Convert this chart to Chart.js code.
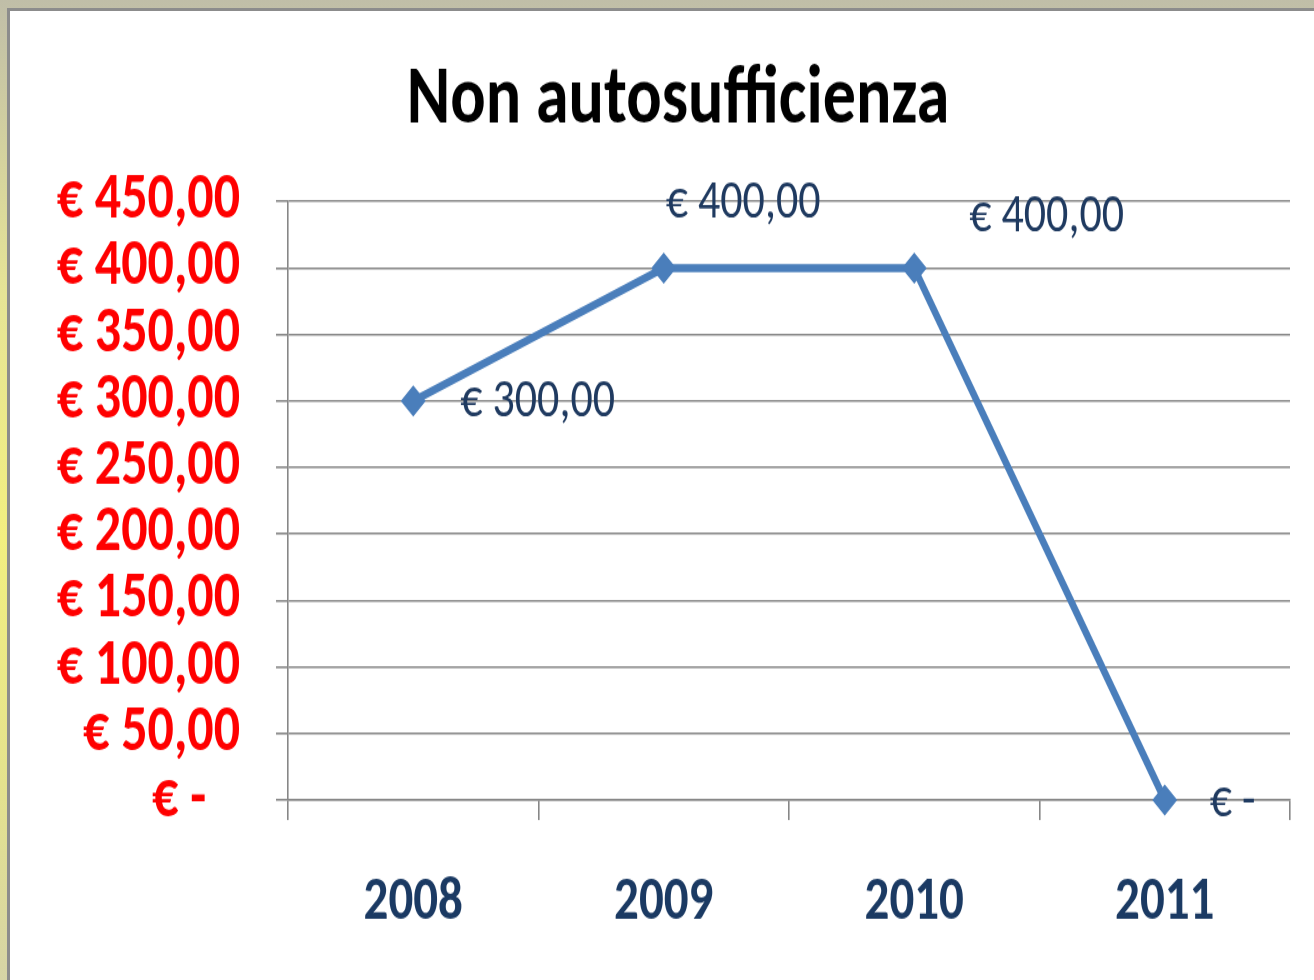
<!DOCTYPE html>
<html lang="it">
<head>
    <meta charset="UTF-8">
    <title>Non autosufficienza</title>
    <script src="https://cdn.jsdelivr.net/npm/chart.js"></script>
    <style>
        html, body { margin: 0; padding: 0; }
        #frame {
            position: relative;
            width: 1314px;
            height: 980px;
            overflow: hidden;
            background: linear-gradient(to bottom, #c0bea8 0%, #e6e496 30%, #f2ef80 55%, #e4e28e 80%, #d6d4a6 100%);
        }
        #sheet {
            position: absolute;
            left: 7px;
            top: 8px;
            right: 0;
            bottom: 0;
            background: #fff;
            border-left: 3px solid #8c8c8c;
            border-top: 3px solid #8c8c8c;
        }
        #stretch {
            position: absolute;
            left: 0;
            top: 0;
            width: 1314px;
            height: 784px;
            transform: scaleY(1.25);
            transform-origin: 0 0;
        }
    </style>
</head>
<body>
    <div id="frame">
        <div id="sheet"></div>
        <div id="stretch">
            <canvas id="chart" width="1314" height="784"></canvas>
        </div>
    </div>

    <script>
        const years = ["2008", "2009", "2010", "2011"];
        const values = [300, 400, 400, 0];
        const yTickLabels = ["€ -", "€ 50,00", "€ 100,00", "€ 150,00", "€ 200,00",
                             "€ 250,00", "€ 300,00", "€ 350,00", "€ 400,00", "€ 450,00"];

        const fontStack = "Carlito, Lato, 'Open Sans', sans-serif";

        function euro(v) {
            if (v === 0) return "€ -";
            return "€ " + v.toFixed(2).replace(".", ",");
        }

        // data labels placed like the hand-moved Excel ones
        const valueLabels = {
            id: "valueLabels",
            afterDatasetsDraw(chart, args, opts) {
                const ctx = chart.ctx;
                const meta = chart.getDatasetMeta(0);
                ctx.save();
                ctx.font = "400 44px " + fontStack;
                ctx.fillStyle = "#1f3a60";
                ctx.textAlign = "left";
                ctx.textBaseline = "middle";
                meta.data.forEach((pt, i) => {
                    const off = opts.offsets[i];
                    ctx.fillText(euro(values[i]), pt.x + off[0], pt.y + off[1]);
                });
                ctx.restore();
            }
        };

        const ctx = document.getElementById("chart").getContext("2d");
        new Chart(ctx, {
            type: "line",
            data: {
                labels: years,
                datasets: [{
                    label: "Non autosufficienza",
                    data: values,
                    borderColor: "#4a7ebb",
                    backgroundColor: "#4a7ebb",
                    borderWidth: 6.5,
                    pointStyle: "rectRot",
                    pointRadius: 12.5,
                    pointHoverRadius: 12.5,
                    pointBorderWidth: 0,
                    tension: 0,
                    clip: false
                }]
            },
            options: {
                responsive: false,
                animation: false,
                events: [],
                layout: { padding: { left: 0, right: 24, top: 0, bottom: 0 } },
                plugins: {
                    legend: { display: false },
                    tooltip: { enabled: false },
                    title: {
                        display: true,
                        // leading em space nudges the centred title right, as in the original
                        text: "\u2003Non autosufficienza",
                        color: "#000",
                        font: { family: fontStack, size: 66, weight: "bold", lineHeight: 1.2 },
                        padding: { top: 42, bottom: 40 }
                    },
                    valueLabels: {
                        offsets: [[47, 1.6], [2, -51], [55, -40], [45, 2]]
                    }
                },
                scales: {
                    x: {
                        type: "category",
                        offset: true,
                        afterFit(scale) { scale.height = 144; },
                        grid: {
                            offset: true,
                            drawOnChartArea: false,
                            drawTicks: true,
                            tickLength: 16,
                            color: "#878787",
                            lineWidth: 1.6
                        },
                        border: { display: true, color: "#878787", width: 1.6 },
                        ticks: {
                            color: "#1b3a63",
                            font: { family: fontStack, size: 49, weight: "bold" },
                            padding: 37,
                            maxRotation: 0
                        }
                    },
                    y: {
                        min: 0,
                        max: 450,
                        afterFit(scale) { scale.width = 288; },
                        grid: {
                            color: "#878787",
                            lineWidth: 1.6,
                            tickLength: 12
                        },
                        border: { display: true, color: "#878787", width: 1.6 },
                        ticks: {
                            stepSize: 50,
                            autoSkip: false,
                            color: "#ff0000",
                            font: { family: fontStack, size: 52, weight: "bold" },
                            padding: 36,
                            callback: (value, index) => index === 0 ? yTickLabels[index] + "  \u2009" : yTickLabels[index]
                        }
                    }
                }
            },
            plugins: [valueLabels]
        });
    </script>
</body>
</html>
